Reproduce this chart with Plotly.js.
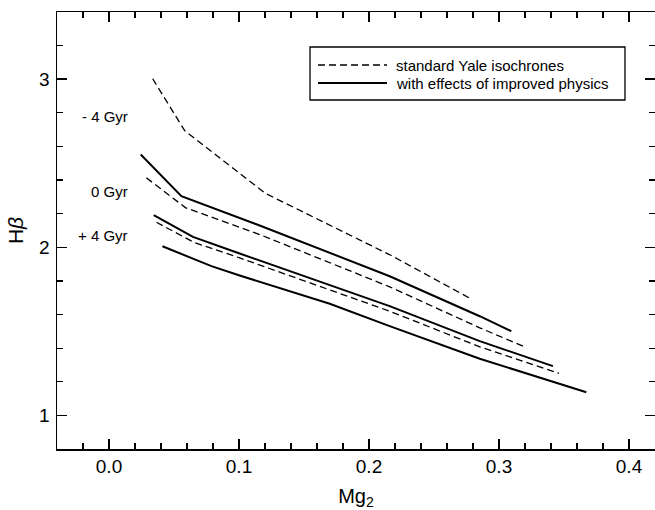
<!DOCTYPE html>
<html>
<head>
<meta charset="utf-8">
<script src="https://cdn.plot.ly/plotly-3.0.1.min.js"></script>
<style>html,body{margin:0;padding:0;background:#fff;}#chart{width:655px;height:510px;}</style>
</head>
<body>
<div id="chart"></div>
<script>
// Mg2 / Hbeta isochrone tracks
const stdM4_x = [0.0336, 0.0582, 0.1205, 0.2172, 0.2782];
const stdM4_y = [3.003, 2.694, 2.320, 1.951, 1.694];

const impA_x = [0.0244, 0.0557, 0.1159, 0.2159, 0.2852, 0.3095];
const impA_y = [2.552, 2.304, 2.130, 1.828, 1.590, 1.501];

const std0_x = [0.0288, 0.0590, 0.1159, 0.2159, 0.2852, 0.3185];
const std0_y = [2.413, 2.235, 2.076, 1.765, 1.521, 1.412];

const impB_x = [0.0344, 0.0646, 0.1005, 0.2159, 0.2852, 0.3415];
const impB_y = [2.191, 2.062, 1.963, 1.650, 1.442, 1.293];

const stdP4_x = [0.0365, 0.0659, 0.1005, 0.2159, 0.2852, 0.3462];
const stdP4_y = [2.149, 2.027, 1.937, 1.620, 1.408, 1.250];

const impC_x = [0.0411, 0.0788, 0.1005, 0.1698, 0.2159, 0.2852, 0.3672];
const impC_y = [2.006, 1.888, 1.832, 1.664, 1.531, 1.337, 1.138];

const ageLabels = ["- 4 Gyr", "0 Gyr", "+ 4 Gyr"];
const ageLabelY = [2.778, 2.332, 2.070];
const legendLabels = ["standard Yale isochrones", "with effects of improved physics"];

const FONT = "Liberation Sans, Arial, sans-serif";
const dashed = {color: "#000", width: 1.3, dash: "7px,4px"};
const solid = {color: "#000", width: 2};

function tr(x, y, line) {
  return {x: x, y: y, type: "scatter", mode: "lines", line: line, showlegend: false, hoverinfo: "skip"};
}

const data = [
  tr(stdM4_x, stdM4_y, dashed),
  tr(impA_x, impA_y, solid),
  tr(std0_x, std0_y, dashed),
  tr(impB_x, impB_y, solid),
  tr(stdP4_x, stdP4_y, dashed),
  tr(impC_x, impC_y, solid)
];

const annotations = ageLabels.map((t, i) => ({
  x: 0.0158, y: ageLabelY[i], xref: "x", yref: "y", text: t, showarrow: false,
  xanchor: "right", yanchor: "middle", font: {family: FONT, size: 15, color: "#000"}
}));
annotations.push({x: 0.5640, y: 0.8787, xref: "paper", yref: "paper", text: legendLabels[0], showarrow: false,
  xanchor: "left", yanchor: "middle", font: {family: FONT, size: 15, color: "#000"}});
annotations.push({x: 0.5640, y: 0.8375, xref: "paper", yref: "paper", text: legendLabels[1], showarrow: false,
  xanchor: "left", yanchor: "middle", font: {family: FONT, size: 15, color: "#000"}});

const shapes = [
  {type: "rect", xref: "paper", yref: "paper", x0: 0.4231, x1: 0.9498, y0: 0.7986, y1: 0.9199,
   line: {color: "#000", width: 1.3}, fillcolor: "rgba(0,0,0,0)"},
  {type: "line", xref: "paper", yref: "paper", x0: 0.4365, x1: 0.5518, y0: 0.8787, y1: 0.8787, line: dashed},
  {type: "line", xref: "paper", yref: "paper", x0: 0.4365, x1: 0.5518, y0: 0.8375, y1: 0.8375, line: solid}
];

const axisCommon = {
  showgrid: false, zeroline: false, showline: true, linecolor: "#000", linewidth: 1.5,
  mirror: "allticks", ticks: "inside", tickcolor: "#000", tickwidth: 1.5, ticklen: 10,
  tickfont: {family: FONT, size: 19, color: "#000"}
};

const layout = {
  width: 655, height: 510,
  margin: {l: 57, r: 0, t: 12, b: 61},
  paper_bgcolor: "#fff", plot_bgcolor: "#fff",
  showlegend: false,
  xaxis: Object.assign({}, axisCommon, {
    range: [-0.04, 0.42], tick0: 0, dtick: 0.1, tickformat: ".1f",
    minor: {dtick: 0.02, ticks: "inside", ticklen: 6, tickwidth: 1.2, tickcolor: "#000"},
    title: {text: "Mg<sub>2</sub>", font: {family: FONT, size: 20, color: "#000"}, standoff: 12}
  }),
  yaxis: Object.assign({}, axisCommon, {
    range: [0.8, 3.4], tick0: 0, dtick: 1, ticklabelstandoff: 2,
    minor: {dtick: 0.2, ticks: "inside", ticklen: 6, tickwidth: 1.2, tickcolor: "#000"},
    title: {text: "H<i>β</i>", font: {family: FONT, size: 21, color: "#000"}, standoff: 10}
  }),
  annotations: annotations,
  shapes: shapes
};

Plotly.newPlot("chart", data, layout, {displayModeBar: false, staticPlot: true});
</script>
</body>
</html>
